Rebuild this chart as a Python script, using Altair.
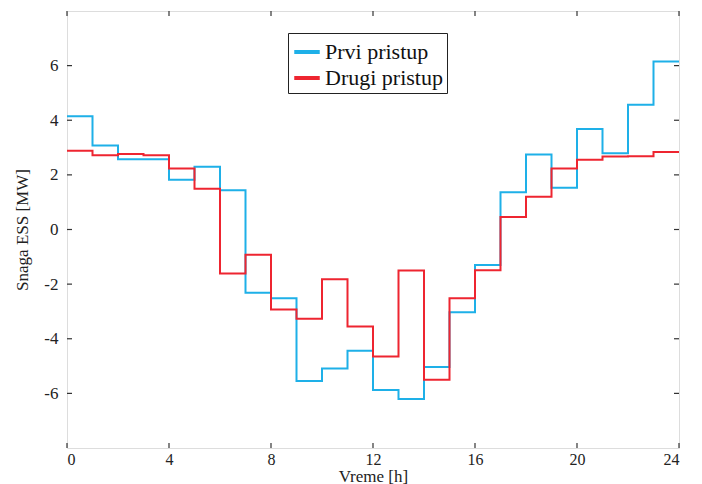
import altair as alt
import pandas as pd

hours = list(range(25))
prvi = [4.15, 3.08, 2.57, 2.57, 1.82, 2.30, 1.44, -2.32, -2.52, -5.55, -5.09, -4.44,
        -5.88, -6.21, -5.03, -3.03, -1.30, 1.36, 2.75, 1.53, 3.68, 2.79, 4.57, 6.15]
drugi = [2.88, 2.72, 2.76, 2.72, 2.23, 1.49, -1.61, -0.92, -2.93, -3.27, -1.82, -3.55,
         -4.65, -1.50, -5.50, -2.52, -1.49, 0.46, 1.20, 2.23, 2.55, 2.67, 2.68, 2.84]
series_names = ["Prvi pristup", "Drugi pristup"]
series_colors = ["#1eb0e8", "#ee2530"]
x_ticks = [0, 4, 8, 12, 16, 20, 24]
y_ticks = [-6, -4, -2, 0, 2, 4, 6]

rows = []
for name, vals in zip(series_names, [prvi, drugi]):
    ext = vals + [vals[-1]]
    for h, v in zip(hours, ext):
        rows.append({"t": h, "p": v, "s": name})
df = pd.DataFrame(rows)

W, H = 612, 437
FONT = "Times New Roman, Liberation Serif, DejaVu Serif, serif"

xs = alt.Scale(domain=[0, 24], nice=False, zero=False)
ys = alt.Scale(domain=[-8, 8], nice=False, zero=False)

lines = alt.Chart(df).mark_line(interpolate="step-after", strokeWidth=2).encode(
    x=alt.X("t:Q", scale=xs,
            axis=alt.Axis(values=x_ticks, title="Vreme [h]", grid=False, ticks=False,
                          domain=False, labelFont=FONT, labelFontSize=16,
                          labelColor="#222", labelPadding=3, titleFont=FONT,
                          titleFontSize=17, titleFontWeight="normal", titleColor="#222",
                          titlePadding=1, labelExpr="datum.value + ''")),
    y=alt.Y("p:Q", scale=ys,
            axis=alt.Axis(values=y_ticks, title="Snaga ESS [MW]", grid=False, ticks=False,
                          domain=False, labelFont=FONT, labelFontSize=17,
                          labelColor="#222", labelPadding=9, titleFont=FONT,
                          titleFontSize=17, titleFontWeight="normal", titleColor="#222",
                          titlePadding=12, labelExpr="datum.value + ''")),
    color=alt.Color("s:N", scale=alt.Scale(domain=series_names, range=series_colors),
                    sort=series_names,
                    legend=alt.Legend(title=None, orient="none", legendX=221, legendY=22,
                                      strokeColor="#222", fillColor="white",
                                      padding=4, symbolType="stroke",
                                      symbolStrokeWidth=4, symbolSize=650,
                                      labelFont=FONT, labelFontSize=22,
                                      labelColor="#111", rowPadding=0,
                                      labelOffset=3, labelLimit=300)),
)

xt = pd.DataFrame({"v": x_ticks})
yt = pd.DataFrame({"v": y_ticks})
tick_col = "#333"
bottom = alt.Chart(xt).mark_rule(color=tick_col, strokeWidth=1.2).encode(
    x=alt.X("v:Q", scale=xs), y=alt.value(H), y2=alt.value(H - 5))
top = alt.Chart(xt).mark_rule(color=tick_col, strokeWidth=1.2).encode(
    x=alt.X("v:Q", scale=xs), y=alt.value(0), y2=alt.value(5))
left = alt.Chart(yt).mark_rule(color=tick_col, strokeWidth=1.2).encode(
    y=alt.Y("v:Q", scale=ys), x=alt.value(0), x2=alt.value(5))
right = alt.Chart(yt).mark_rule(color=tick_col, strokeWidth=1.2).encode(
    y=alt.Y("v:Q", scale=ys), x=alt.value(W), x2=alt.value(W - 5))

chart = alt.layer(lines, bottom, top, left, right).properties(
    width=W, height=H,
    autosize=alt.AutoSizeParams(type="none"),
    padding={"left": 67, "top": 11, "right": 23, "bottom": 36},
).configure_view(stroke="#444", strokeWidth=1.5).configure(background="white")

chart.save("out.html", embed_options={"renderer": "svg", "actions": False})
